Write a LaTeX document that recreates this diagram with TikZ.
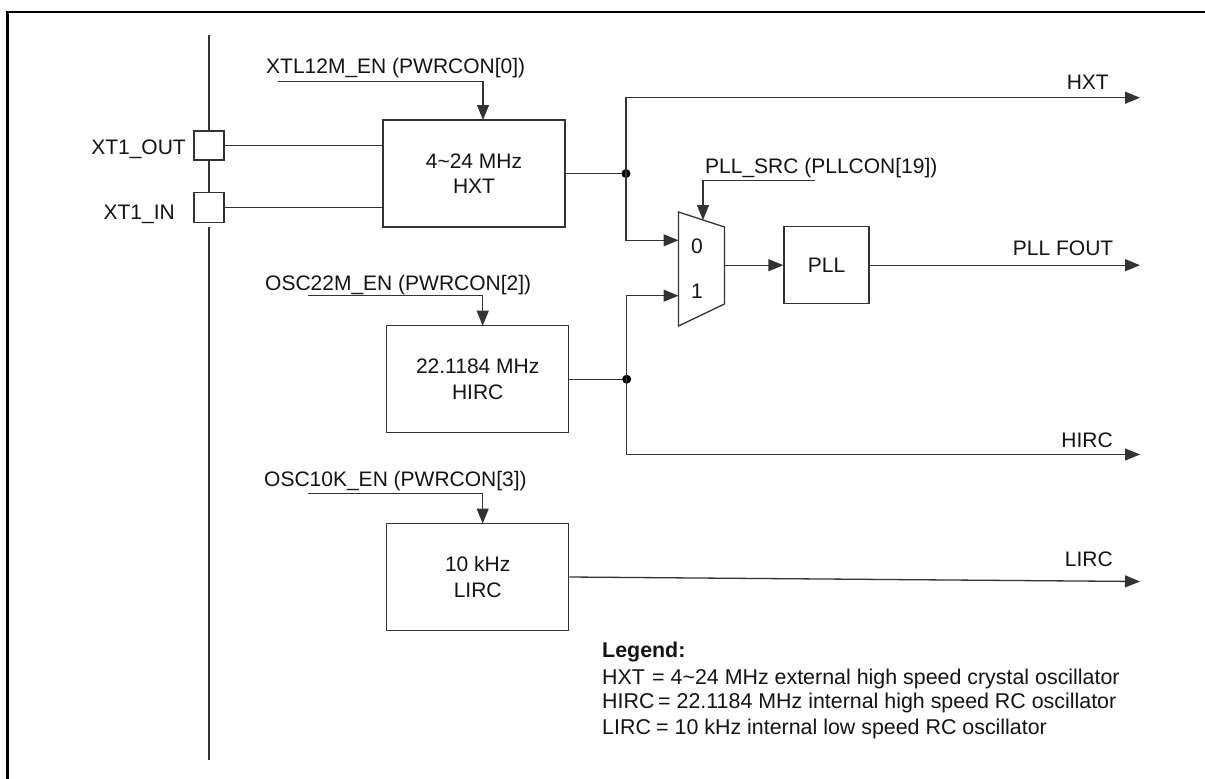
\documentclass[tikz,border=0pt]{standalone}
\usepackage{fontspec}
\setmainfont{Liberation Sans}
\usetikzlibrary{arrows.meta}
\begin{document}
\begin{tikzpicture}[x=1pt,y=-1pt,
  every node/.style={font=\fontsize{21}{25.5}\selectfont, text=black!92, inner sep=0pt},
  ln/.style={line width=1.3pt, draw=black!80},
  arr/.style={ln, -{Triangle[length=15pt,width=12pt]}},
  blk/.style={draw=black!80, line width=1.3pt, minimum width=182pt, minimum height=107pt, align=center},
  pad/.style={draw=black!80, line width=1.3pt, minimum width=30pt},
  lbl/.style={anchor=base west},
  lblr/.style={anchor=base east},
  lg/.style={anchor=base west, font=\fontsize{21.4}{25}\selectfont},
  dot/.style={circle, fill=black, minimum size=9pt, inner sep=0pt}
]
\useasboundingbox (0,0) rectangle (1205,779);
\fill[white] (0,0) rectangle (1205,779);
% frame
\draw[line width=2.6pt, black] (1205,12) -- (7.7,12) -- (7.7,779);

% pins
\node[pad, minimum height=29pt] (xo) at (209,145.5) {};
\node[pad, minimum height=30pt] (xi) at (209,207.7) {};
\coordinate (vt) at (209,35);
\coordinate (vb1) at (209,227);
\coordinate (vb2) at (209,760);
\draw[ln] (vt) -- (xo.north);
\draw[ln] (xo.south) -- (xi.north);
\draw[ln] (vb1) -- (vb2);
\node[lblr] (xol) at (186,154) {XT1\_OUT};
\node[lblr] (xil) at (175,219) {XT1\_IN};

% blocks
\node[blk] (hxt) at (474,173.5) {4\textasciitilde24 MHz\\HXT};
\node[blk] (hirc) at (477.7,379.2) {22.1184 MHz\\HIRC};
\node[blk] (lirc) at (477.7,577) {10 kHz\\LIRC};
\node[blk, minimum width=85pt, minimum height=77pt] (pll) at (826.5,265.2) {PLL};

\draw[ln] (xo.east) -- (xo.east -| hxt.west);
\draw[ln] (xi.east) -- (xi.east -| hxt.west);

% enables
\node[lbl] (en1) at (266,73.5) {XTL12M\_EN (PWRCON[0])};
\coordinate (en1s) at (278,81.7);
\coordinate (en1t) at (483,120);
\draw[arr] (en1s) -| (en1t);

\node[lbl] (en2) at (265,290.5) {OSC22M\_EN (PWRCON[2])};
\coordinate (en2s) at (308,295.7);
\coordinate (en2t) at (482.7,325.7);
\draw[arr] (en2s) -| (en2t);

\node[lbl] (en3) at (264,486.5) {OSC10K\_EN (PWRCON[3])};
\coordinate (en3s) at (308,493.3);
\coordinate (en3t) at (482.7,523.5);
\draw[arr] (en3s) -| (en3t);

% mux
\coordinate (ma) at (678.5,212);
\coordinate (mb) at (724.5,227);
\coordinate (mc) at (724.5,304);
\coordinate (md) at (678.5,326);
\draw[ln, fill=white] (ma) -- (mb) -- (mc) -- (md) -- cycle;
\node (mzero) at (697,246) {0};
\node (mone) at (697,291) {1};

\node[lbl] (src) at (705,173.5) {PLL\_SRC (PLLCON[19])};
\coordinate (srcs) at (815,180.7);
\coordinate (srct) at (703,220);
\draw[arr] (srcs) -| (srct);

% HXT outputs
\coordinate (j1) at (626,173.5);
\draw[ln] (hxt.east) -- (j1);
\node[dot] (d1) at (j1) {};
\coordinate (hxtc) at (626,97.7);
\coordinate (hxto) at (1140,97.7);
\draw[arr] (j1) -- (hxtc) -- (hxto);
\coordinate (in0c) at (626,240.3);
\coordinate (in0) at (678.5,240.3);
\draw[arr] (j1) -- (in0c) -- (in0);
\node[lblr] (hxtl) at (1109,89.5) {HXT};

% PLL
\coordinate (mo) at (724.5,265.2);
\draw[arr] (mo) -- (pll.west);
\coordinate (pllo) at (1140,265.2);
\draw[arr] (pll.east) -- (pllo);
\node[lblr] (plll) at (1113.5,255.5) {PLL FOUT};

% HIRC outputs
\coordinate (j2) at (626.7,379.2);
\draw[ln] (hirc.east) -- (j2);
\node[dot] (d2) at (j2) {};
\coordinate (in1c) at (626.7,295.7);
\coordinate (in1) at (678.5,295.7);
\draw[arr] (j2) -- (in1c) -- (in1);
\coordinate (hircc) at (626.7,454.5);
\coordinate (hirco) at (1140,454.5);
\draw[arr] (j2) -- (hircc) -- (hirco);
\node[lblr] (hircl) at (1113,447.5) {HIRC};

% LIRC output
\coordinate (lirco) at (1140,581.5);
\draw[arr] (lirc.east) -- (lirco);
\node[lblr] (lircl) at (1113,566.5) {LIRC};

% legend
\node[lg, font=\fontsize{21.4}{25}\selectfont\bfseries] (leg) at (602,657.5) {Legend:};
\node[lg] (l1a) at (602,684.5) {HXT};
\node[lg] (l1b) at (652,684.5) {= 4\textasciitilde24 MHz external high speed crystal oscillator};
\node[lg] (l2a) at (602,708) {HIRC};
\node[lg] (l2b) at (658,708) {= 22.1184 MHz internal high speed RC oscillator};
\node[lg] (l3a) at (602,734) {LIRC};
\node[lg] (l3b) at (656,734) {= 10 kHz internal low speed RC oscillator};
\end{tikzpicture}
\end{document}
